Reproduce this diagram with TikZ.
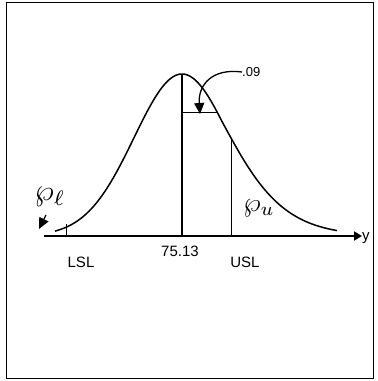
\documentclass[tikz,border=0pt]{standalone}
\usepackage{fontspec}
\usepackage{graphicx}
\setsansfont{Liberation Sans}
\usetikzlibrary{arrows.meta}
\begin{document}
\begin{tikzpicture}[x=1pt,y=-1pt,
  lbl/.style={font=\sffamily\fontsize{15}{15}\selectfont, inner sep=0pt},
  curve/.style={line width=1.5pt},
  fat/.style={-{Triangle[length=11pt,width=10pt]}}]
\useasboundingbox (0,0) rectangle (378,381);
\draw[line width=1pt] (6,2) rectangle (373,378);
% axis
\coordinate (a0) at (44,236);
\coordinate (a1) at (362,236);
\draw[line width=2.6pt, -{Triangle[length=8pt,width=9pt]}] (a0) -- (a1);
\node[lbl, anchor=west] (yl) at (362,238) {y};
% curve
\draw[curve] plot[domain=55:182, samples=60, smooth] (\x, {236-162*exp(-0.5*((\x-182)/48)^2)});
\draw[curve] plot[domain=182:337, samples=60, smooth] (\x, {236-162*exp(-0.5*((\x-182)/(48+0.1*max(0,\x-222)))^2)});
% lines
\coordinate (pk) at (182,74);
\coordinate (m0) at (182,236);
\draw[line width=1.8pt] (pk) -- (m0);
\coordinate (u1) at (231,140);
\coordinate (u0) at (231,236);
\draw[line width=1pt] (u1) -- (u0);
\coordinate (l1) at (66,224);
\coordinate (l0) at (66,236);
\draw[line width=0.8pt] (l1) -- (l0);
\coordinate (h0) at (182,112);
\coordinate (h1) at (217,112);
\draw[line width=1pt] (h0) -- (h1);
% labels
\node[lbl] (lsl) at (81,262) {LSL};
\node[lbl] (mean) at (180,251) {75.13};
\node[lbl] (usl) at (245,262) {USL};
\node[lbl, font=\sffamily\fontsize{13}{13}\selectfont, anchor=west] (d09) at (242,72) {.09};
\node[inner sep=0pt] (pl) at (50,197) {\scalebox{3}{$\wp_{\ell}$}};
\node[inner sep=0pt] (pu) at (259,208) {\scalebox{2.7}{$\wp_{u}$}};
% arrows
\coordinate (t09) at (200,114);
\draw[line width=1.3pt, fat] (d09.west) .. controls (212,68) and (198,85) .. (t09);
\coordinate (tpl) at (39,229);
\draw[line width=1.3pt, fat] (46,215) -- (tpl);
\end{tikzpicture}
\end{document}
